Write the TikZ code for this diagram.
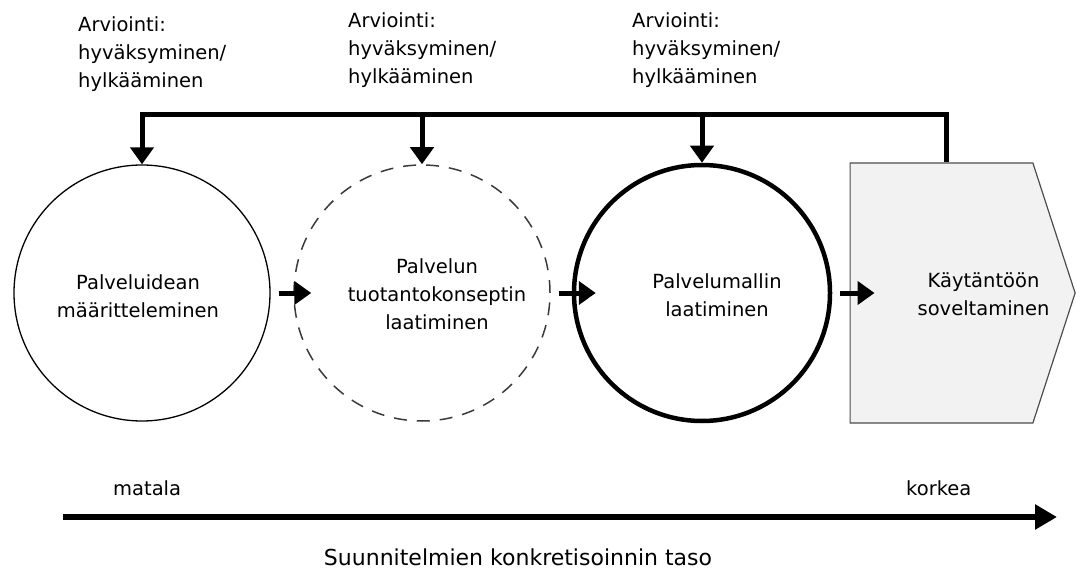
\documentclass[tikz,border=0pt]{standalone}
\usepackage{fontspec}
\setmainfont{DejaVu Sans}
\usepackage{xcolor}
\usetikzlibrary{arrows.meta,positioning,shapes.symbols}

\definecolor{stagefill}{HTML}{F2F2F2}
\definecolor{stageline}{HTML}{4D4D4D}
\definecolor{dashline}{HTML}{3A3A3A}

\begin{document}
\begin{tikzpicture}[x=1pt, y=-1pt, node distance={280pt},
    main/.style = {draw, circle, minimum size=256pt, inner sep=0pt, line width=1.3pt},
    stage/.style = {draw=stageline, fill=stagefill, line width=1.2pt, signal, signal to=east, signal pointer angle=144, minimum width=225pt, minimum height=260pt, inner sep=0pt},
    txt/.style = {align=center, inner sep=0pt, font=\fontsize{19.5}{28}\selectfont},
    note/.style = {align=left, inner sep=0pt, anchor=north west, font=\fontsize{19.5}{28}\selectfont},
    flow/.style = {line width=5pt, -{Triangle[length=17pt,width=23pt]}},
    axis/.style = {line width=6pt, -{Triangle[length=22pt,width=24pt]}}]
      \useasboundingbox (0,0) rectangle (1076,572);

      \node[main] (c1) at (142,293) {};
      \node[main, draw=dashline, line width=1.5pt, dash pattern=on 13pt off 10pt] (c2) [right of=c1] {};
      \node[main, line width=4.5pt] (c3) [right of=c2] {};
      \node[stage] (box) at (941.5,293) {};

      \node[txt] (t1) at ([xshift=-4pt, yshift=-3pt]c1.center) {Palveluidean\\määritteleminen};
      \node[txt] (t2) at ([xshift=15pt, yshift=-1pt]c2.center) {Palvelun\\tuotantokonseptin\\laatiminen};
      \node[txt] (t3) at ([xshift=15pt, yshift=-2pt]c3.center) {Palvelumallin\\laatiminen};
      \node[txt] (t4) at ([xshift=42pt, yshift=-1pt]box.center) {Käytäntöön\\soveltaminen};

      \node[note] (a1) at (78,16) {Arviointi:\\hyväksyminen/\\hylkääminen};
      \node[note] (a2) at (348,12) {Arviointi:\\hyväksyminen/\\hylkääminen};
      \node[note] (a3) at (632,12) {Arviointi:\\hyväksyminen/\\hylkääminen};

      \coordinate (fb) at (946,115);
      \draw[flow] (fb |- box.north) -- (fb) -- (fb -| c1.north) -- (c1.north);
      \draw[flow] (c2.north |- fb) -- (c2.north);
      \draw[flow] (c3.north |- fb) -- (c3.north);

      \draw[flow] ([xshift=8pt]c1.east) -- ([xshift=18pt]c2.west);
      \draw[flow] ([xshift=8pt]c2.east) -- ([xshift=24pt]c3.west);
      \draw[flow] ([xshift=8pt]c3.east) -- ([xshift=25pt]box.west);

      \coordinate (lo) at (63,517);
      \coordinate (hi) at (1057,517);
      \draw[axis] (lo) -- (hi);
      \node[txt, anchor=base west] (low) at (113,495) {matala};
      \node[txt, anchor=base west] (high) at (906,495) {korkea};
      \node[inner sep=0pt, anchor=base, font=\fontsize{22}{26}\selectfont] (level) at (518,565) {Suunnitelmien konkretisoinnin taso};
    \end{tikzpicture}
\end{document}
